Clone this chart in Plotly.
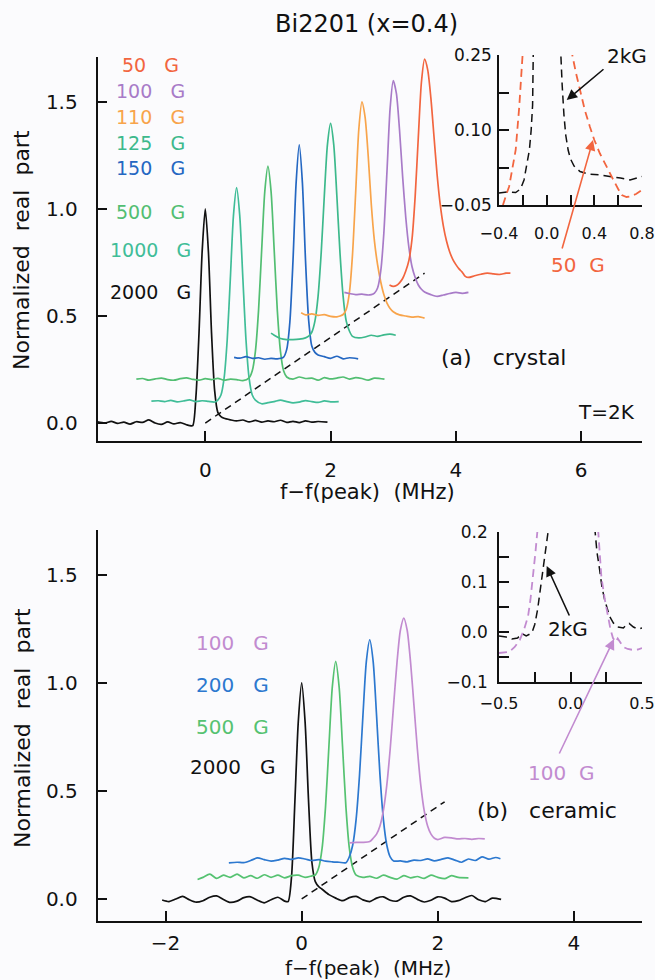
import plotly.graph_objects as go

W, H = 655, 980

# ---------------- DATA: top panel (a) crystal ----------------
top_2000_x = [-1.72, -1.6, -1.5, -1.4, -1.3, -1.2, -1.1, -1.0, -0.9, -0.8, -0.7, -0.6, -0.5, -0.4, -0.3, -0.25, -0.2,
              -0.15, -0.1, -0.05, 0.0, 0.05, 0.1, 0.15, 0.2, 0.25, 0.3, 0.4, 0.5, 0.6, 0.7, 0.8, 0.9, 1.0, 1.1, 1.2,
              1.3, 1.4, 1.5, 1.6, 1.7, 1.8, 1.95]
top_2000_y = [0.005, 0.0, 0.008, -0.002, 0.004, -0.005, 0.006, 0.003, 0.015, 0.0, -0.006, 0.005, -0.004, 0.002,
              -0.008, -0.012, -0.012, 0.12, 0.42, 0.8, 1.0, 0.8, 0.42, 0.15, 0.05, 0.03, 0.022, 0.015, 0.01, 0.014,
              0.005, 0.012, 0.004, 0.01, 0.006, 0.013, 0.003, 0.008, 0.002, 0.01, 0.004, 0.007, 0.004]

top_1000_x = [-0.86, -0.75, -0.65, -0.55, -0.45, -0.35, -0.25, -0.15, -0.05, 0.05, 0.15, 0.2, 0.25, 0.3, 0.35, 0.4,
              0.45, 0.5, 0.55, 0.6, 0.65, 0.7, 0.75, 0.8, 0.9, 1.0, 1.1, 1.2, 1.3, 1.4, 1.5, 1.6, 1.7, 1.8, 1.9, 2.0,
              2.13]
top_1000_y = [0.102, 0.104, 0.1, 0.106, 0.099, 0.103, 0.108, 0.1, 0.104, 0.101, 0.098, 0.107, 0.131, 0.209, 0.388,
              0.675, 0.97, 1.1, 0.97, 0.675, 0.388, 0.209, 0.131, 0.107, 0.09, 0.095, 0.1, 0.107, 0.1, 0.094, 0.098,
              0.105, 0.1, 0.096, 0.103, 0.099, 0.1]

top_500_x = [-1.1, -1.0, -0.9, -0.8, -0.7, -0.6, -0.5, -0.4, -0.3, -0.2, -0.1, 0.0, 0.1, 0.2, 0.3, 0.4, 0.5, 0.6,
             0.7, 0.75, 0.8, 0.85, 0.9, 0.95, 1.0, 1.05, 1.1, 1.15, 1.2, 1.25, 1.3, 1.4, 1.5, 1.6, 1.7, 1.8, 1.9, 2.0,
             2.1, 2.2, 2.3, 2.4, 2.5, 2.6, 2.7, 2.86]
top_500_y = [0.205, 0.208, 0.2, 0.206, 0.21, 0.203, 0.2, 0.207, 0.211, 0.204, 0.2, 0.207, 0.203, 0.209, 0.2, 0.205,
             0.203, 0.198, 0.211, 0.244, 0.335, 0.525, 0.807, 1.082, 1.2, 1.082, 0.807, 0.525, 0.335, 0.244, 0.215,
             0.205, 0.215, 0.208, 0.21, 0.2, 0.212, 0.206, 0.21, 0.215, 0.205, 0.212, 0.208, 0.2, 0.21, 0.205]

top_150_x = [0.46, 0.55, 0.65, 0.75, 0.85, 0.95, 1.05, 1.15, 1.25, 1.3, 1.35, 1.4, 1.45, 1.5, 1.55, 1.6, 1.65, 1.7,
             1.75, 1.8, 1.9, 2.0, 2.1, 2.2, 2.3, 2.44]
top_150_y = [0.307, 0.303, 0.31, 0.302, 0.305, 0.298, 0.302, 0.3, 0.308, 0.344, 0.472, 0.758, 1.123, 1.3, 1.123,
             0.758, 0.48, 0.36, 0.33, 0.318, 0.31, 0.302, 0.312, 0.3, 0.305, 0.3]

top_125_x = [1.05, 1.1, 1.2, 1.3, 1.4, 1.5, 1.6, 1.65, 1.7, 1.75, 1.8, 1.85, 1.9, 1.95, 2.0, 2.05, 2.1, 2.15, 2.2,
             2.25, 2.3, 2.35, 2.45, 2.55, 2.65, 2.75, 2.85, 2.95, 3.04]
top_125_y = [0.42, 0.41, 0.395, 0.39, 0.39, 0.392, 0.398, 0.406, 0.424, 0.476, 0.592, 0.795, 1.062, 1.302, 1.4,
             1.302, 1.062, 0.795, 0.592, 0.476, 0.43, 0.405, 0.398, 0.402, 0.41, 0.405, 0.412, 0.415, 0.41]

top_110_x = [1.53, 1.6, 1.7, 1.8, 1.9, 2.0, 2.1, 2.15, 2.2, 2.25, 2.3, 2.35, 2.4, 2.45, 2.5, 2.55, 2.6, 2.65, 2.7,
             2.75, 2.8, 2.85, 2.9, 2.95, 3.0, 3.1, 3.2, 3.3, 3.4, 3.5]
top_110_y = [0.515, 0.505, 0.51, 0.503, 0.506, 0.498, 0.496, 0.5, 0.507, 0.531, 0.609, 0.788, 1.075, 1.37, 1.5,
             1.43, 1.25, 1.02, 0.85, 0.74, 0.66, 0.6, 0.56, 0.535, 0.52, 0.505, 0.5, 0.495, 0.497, 0.49]

top_100_x = [2.22, 2.3, 2.4, 2.5, 2.6, 2.65, 2.7, 2.75, 2.8, 2.85, 2.9, 2.95, 3.0, 3.05, 3.1, 3.15, 3.2, 3.25, 3.3,
             3.35, 3.4, 3.45, 3.5, 3.6, 3.7, 3.8, 3.9, 4.0, 4.1, 4.2]
top_100_y = [0.61, 0.605, 0.6, 0.602, 0.598, 0.6, 0.607, 0.631, 0.709, 0.888, 1.175, 1.47, 1.6, 1.54, 1.37, 1.15,
             0.96, 0.82, 0.73, 0.68, 0.645, 0.625, 0.612, 0.6, 0.592, 0.598, 0.605, 0.61, 0.606, 0.61]

top_50_x = [2.94, 3.0, 3.05, 3.1, 3.15, 3.2, 3.25, 3.3, 3.35, 3.4, 3.45, 3.5, 3.55, 3.6, 3.65, 3.7, 3.75, 3.8, 3.85,
            3.9, 3.95, 4.0, 4.05, 4.1, 4.15, 4.2, 4.3, 4.4, 4.5, 4.6, 4.7, 4.8, 4.87]
top_50_y = [0.645, 0.638, 0.642, 0.655, 0.675, 0.71, 0.76, 0.86, 1.06, 1.335, 1.593, 1.7, 1.65, 1.52, 1.34, 1.16,
            1.02, 0.92, 0.85, 0.8, 0.765, 0.74, 0.72, 0.705, 0.685, 0.68, 0.688, 0.695, 0.7, 0.697, 0.694, 0.7, 0.7]

top_diag_x = [0.0, 3.5]
top_diag_y = [0.0, 0.7]

# top inset (zoom of 2kG and 50 G)
ins_a_2k_x = [-0.4, -0.33, -0.26, -0.22, -0.19, -0.165, -0.145, -0.13, -0.118, -0.11, 0.0, 0.11, 0.118, 0.13, 0.145,
              0.16, 0.18, 0.2, 0.23, 0.28, 0.35, 0.45, 0.55, 0.62, 0.7, 0.8]
ins_a_2k_y = [-0.026, -0.024, -0.025, -0.018, 0.0, 0.03, 0.06, 0.1, 0.15, 0.3, 1.0, 0.3, 0.25, 0.19, 0.13, 0.09,
              0.06, 0.042, 0.028, 0.017, 0.012, 0.01, 0.006, 0.004, 0.0, 0.007]
ins_a_50_x = [-0.4, -0.37, -0.34, -0.315, -0.29, -0.26, -0.23, -0.208, -0.19, 0.0, 0.2, 0.215, 0.245, 0.278, 0.32,
              0.362, 0.4, 0.447, 0.5, 0.56, 0.6, 0.63, 0.67, 0.7, 0.75, 0.8]
ins_a_50_y = [-0.075, -0.05, -0.03, -0.013, 0.02, 0.06, 0.147, 0.25, 0.35, 1.0, 0.3, 0.25, 0.215, 0.18, 0.14, 0.107,
              0.08, 0.053, 0.027, 0.0, -0.018, -0.03, -0.034, -0.033, -0.028, -0.02]

# ---------------- DATA: bottom panel (b) ceramic ----------------
bot_2000_x = [-2.05, -1.95, -1.85, -1.75, -1.65, -1.55, -1.45, -1.35, -1.25, -1.15, -1.05, -0.95, -0.85, -0.75,
              -0.65, -0.55, -0.45, -0.35, -0.25, -0.2, -0.15, -0.1, -0.05, 0.0, 0.05, 0.1, 0.15, 0.2, 0.25, 0.3, 0.4,
              0.5, 0.6, 0.7, 0.8, 0.9, 1.0, 1.1, 1.2, 1.3, 1.4, 1.5, 1.6, 1.7, 1.8, 1.9, 2.0, 2.1, 2.2, 2.3, 2.4,
              2.5, 2.6, 2.7, 2.8, 2.93]
bot_2000_y = [-0.005, -0.012, 0.0, 0.012, -0.004, -0.015, -0.008, 0.008, 0.014, -0.002, -0.016, -0.01, 0.006, 0.01,
              -0.006, -0.018, -0.004, 0.008, -0.01, -0.012, 0.1, 0.45, 0.82, 1.0, 0.82, 0.46, 0.17, 0.08, 0.057,
              0.045, 0.02, 0.004, -0.008, 0.006, 0.012, -0.004, -0.012, 0.004, 0.01, -0.006, -0.01, 0.008, 0.014,
              -0.002, -0.014, -0.006, 0.01, 0.004, -0.012, -0.008, 0.006, 0.016, -0.004, -0.012, 0.004, -0.002]

bot_500_x = [-1.53, -1.45, -1.35, -1.25, -1.15, -1.05, -0.95, -0.85, -0.75, -0.65, -0.55, -0.45, -0.35, -0.25,
             -0.15, -0.05, 0.05, 0.15, 0.2, 0.25, 0.3, 0.35, 0.4, 0.45, 0.5, 0.55, 0.6, 0.65, 0.7, 0.75, 0.8, 0.9,
             1.0, 1.1, 1.2, 1.3, 1.4, 1.5, 1.6, 1.7, 1.8, 1.9, 2.0, 2.1, 2.2, 2.3, 2.45]
bot_500_y = [0.09, 0.1, 0.115, 0.095, 0.11, 0.1, 0.115, 0.098, 0.108, 0.096, 0.112, 0.1, 0.11, 0.098, 0.108, 0.11,
             0.1, 0.107, 0.111, 0.144, 0.235, 0.425, 0.707, 0.982, 1.1, 0.982, 0.707, 0.425, 0.235, 0.144, 0.11,
             0.1, 0.105, 0.096, 0.11, 0.1, 0.092, 0.108, 0.098, 0.104, 0.095, 0.11, 0.1, 0.094, 0.108, 0.1, 0.098]

bot_200_x = [-1.07, -0.95, -0.85, -0.75, -0.65, -0.55, -0.45, -0.35, -0.25, -0.15, -0.05, 0.05, 0.15, 0.25, 0.35,
             0.45, 0.55, 0.65, 0.7, 0.75, 0.8, 0.85, 0.9, 0.95, 1.0, 1.05, 1.1, 1.15, 1.2, 1.25, 1.3, 1.35, 1.45,
             1.55, 1.65, 1.75, 1.85, 1.95, 2.05, 2.15, 2.25, 2.35, 2.45, 2.55, 2.65, 2.75, 2.85, 2.92]
bot_200_y = [0.167, 0.17, 0.168, 0.178, 0.19, 0.182, 0.175, 0.18, 0.188, 0.183, 0.19, 0.185, 0.178, 0.182, 0.175,
             0.172, 0.17, 0.168, 0.195, 0.25, 0.37, 0.575, 0.85, 1.1, 1.2, 1.1, 0.85, 0.575, 0.37, 0.25, 0.195,
             0.176, 0.176, 0.172, 0.18, 0.178, 0.186, 0.176, 0.183, 0.19, 0.18, 0.17, 0.185, 0.178, 0.195, 0.184,
             0.192, 0.186]

bot_100_x = [0.7, 0.8, 0.9, 1.0, 1.05, 1.1, 1.15, 1.2, 1.25, 1.3, 1.35, 1.4, 1.45, 1.5, 1.55, 1.6, 1.65, 1.7, 1.75,
             1.8, 1.85, 1.9, 1.95, 2.0, 2.1, 2.2, 2.3, 2.4, 2.5, 2.6, 2.69]
bot_100_y = [0.26, 0.262, 0.262, 0.266, 0.281, 0.3, 0.338, 0.409, 0.526, 0.693, 0.895, 1.094, 1.244, 1.3, 1.244,
             1.094, 0.895, 0.693, 0.526, 0.409, 0.338, 0.3, 0.281, 0.275, 0.285, 0.283, 0.278, 0.28, 0.276, 0.28,
             0.278]

bot_diag_x = [0.0, 2.1]
bot_diag_y = [0.0, 0.45]

# bottom inset (zoom of 2kG and 100 G)
ins_b_2k_x = [-0.5, -0.45, -0.41, -0.37, -0.34, -0.31, -0.27, -0.25, -0.23, -0.21, -0.19, -0.17, -0.157, -0.14,
              0.0, 0.15, 0.169, 0.185, 0.204, 0.22, 0.239, 0.257, 0.274, 0.3, 0.33, 0.37, 0.39, 0.41, 0.44, 0.47,
              0.5]
ins_b_2k_y = [-0.008, -0.01, -0.014, -0.012, -0.003, -0.008, -0.002, 0.015, 0.045, 0.085, 0.13, 0.175, 0.2, 0.26,
              1.0, 0.27, 0.2, 0.16, 0.124, 0.09, 0.064, 0.045, 0.031, 0.018, 0.01, 0.008, 0.014, 0.017, 0.01, 0.006,
              0.008]
ins_b_100_x = [-0.5, -0.43, -0.39, -0.355, -0.325, -0.297, -0.28, -0.262, -0.245, -0.232, -0.2, 0.0, 0.17, 0.192,
               0.204, 0.216, 0.24, 0.262, 0.28, 0.297, 0.315, 0.33, 0.35, 0.37, 0.4, 0.44, 0.47, 0.5]
ins_b_100_y = [-0.042, -0.04, -0.03, -0.016, 0.005, 0.031, 0.065, 0.11, 0.16, 0.2, 0.3, 1.0, 0.3, 0.2, 0.155, 0.11,
               0.065, 0.031, 0.005, -0.012, -0.02, -0.013, -0.022, -0.03, -0.034, -0.036, -0.035, -0.032]

# tick labels
top_xticks = [0, 2, 4, 6]
bot_xticks = [-2, 0, 2, 4]
main_yticks = [0.0, 0.5, 1.0, 1.5]
ins_a_xticks = [-0.4, -0.2, 0.0, 0.2, 0.4, 0.6, 0.8]
ins_a_xtext = ["\u22120.4", "", "0.0", "", "0.4", "", "0.8"]
ins_a_yticks = [-0.05, 0.025, 0.1, 0.175, 0.25]
ins_a_ytext = ["\u22120.05", "", "0.10", "", "0.25"]
ins_b_xticks = [-0.5, -0.25, 0.0, 0.25, 0.5]
ins_b_xtext = ["\u22120.5", "", "0.0", "", "0.5"]
ins_b_yticks = [-0.1, -0.05, 0.0, 0.05, 0.1, 0.15, 0.2]
ins_b_ytext = ["\u22120.1", "", "0.0", "", "0.1", "", "0.2"]

# ---------------- styling ----------------
FONT = "DejaVu Sans"
BG = "#FBFBFD"
INK = "#111111"
c50 = "#F2653F"
c100 = "#A87BC8"
c110 = "#F8A44B"
c125 = "#3DB98C"
c150 = "#2467C2"
c500 = "#52BE72"
c1000 = "#40BD98"
b100 = "#C28BD0"
b200 = "#2C78CF"
b500 = "#55C271"
LW = 1.7


def px(x):
    return x / W


def py(y):
    return 1 - y / H


fig = go.Figure()


def line(x, y, color, xa, ya, dash=None, width=LW, shape="spline"):
    fig.add_trace(go.Scatter(x=x, y=y, mode="lines", xaxis=xa, yaxis=ya,
                             line=dict(color=color, width=width, dash=dash, shape=shape, smoothing=0.7),
                             hoverinfo="skip", showlegend=False))


# top main
line(top_diag_x, top_diag_y, INK, "x", "y", dash="7px,5px", width=1.5, shape="linear")
line(top_2000_x, top_2000_y, INK, "x", "y")
line(top_1000_x, top_1000_y, c1000, "x", "y")
line(top_500_x, top_500_y, c500, "x", "y")
line(top_150_x, top_150_y, c150, "x", "y")
line(top_125_x, top_125_y, c125, "x", "y")
line(top_110_x, top_110_y, c110, "x", "y")
line(top_100_x, top_100_y, c100, "x", "y")
line(top_50_x, top_50_y, c50, "x", "y")
# bottom main
line(bot_diag_x, bot_diag_y, INK, "x2", "y2", dash="7px,5px", width=1.5, shape="linear")
line(bot_2000_x, bot_2000_y, INK, "x2", "y2")
line(bot_500_x, bot_500_y, b500, "x2", "y2")
line(bot_200_x, bot_200_y, b200, "x2", "y2")
line(bot_100_x, bot_100_y, b100, "x2", "y2")
# insets
line(ins_a_2k_x, ins_a_2k_y, INK, "x3", "y3", dash="8px,5px", width=1.5, shape="linear")
line(ins_a_50_x, ins_a_50_y, c50, "x3", "y3", dash="8px,5px", width=1.8, shape="linear")
line(ins_b_2k_x, ins_b_2k_y, INK, "x4", "y4", dash="8px,5px", width=1.5, shape="linear")
line(ins_b_100_x, ins_b_100_y, b100, "x4", "y4", dash="8px,5px", width=1.8, shape="linear")


def axis(domain, rng, anchor, tickvals, ticktext=None, fmt=None, size=20, standoff=12):
    d = dict(domain=domain, range=rng, anchor=anchor, showline=True, linecolor=INK, linewidth=1.6,
             ticks="inside", ticklen=10, tickwidth=1.6, tickcolor=INK, showgrid=False, zeroline=False,
             tickvals=tickvals, tickfont=dict(family=FONT, size=size, color=INK),
             ticklabelstandoff=standoff, fixedrange=True, automargin=False, ticklabeloverflow="allow")
    if ticktext is not None:
        d["ticktext"] = ticktext
    if fmt:
        d["tickformat"] = fmt
    return d


xdom = [px(97.5), px(642)]
fig.update_layout(
    width=W, height=H, margin=dict(l=0, r=0, t=0, b=0, pad=0, autoexpand=False),
    paper_bgcolor=BG, plot_bgcolor=BG, showlegend=False, hovermode=False,
    xaxis=axis(xdom, [-1.72, 6.97], "y", top_xticks, size=20, standoff=10),
    yaxis=axis([py(441), py(57)], [-0.084, 1.71], "x", main_yticks, fmt=".1f", size=20, standoff=14),
    xaxis2=axis(xdom, [-3.0, 5.0], "y2", bot_xticks, size=20, standoff=3),
    yaxis2=axis([py(921), py(530)], [-0.102, 1.708], "x2", main_yticks, fmt=".1f", size=20, standoff=14),
    xaxis3=axis([px(499), px(642)], [-0.4, 0.8], "y3", ins_a_xticks, ins_a_xtext, size=16, standoff=13),
    yaxis3=axis([py(205), py(55)], [-0.05, 0.25], "x3", ins_a_yticks, ins_a_ytext, size=17, standoff=2),
    xaxis4=axis([px(499), px(642)], [-0.5, 0.5], "y4", ins_b_xticks, ins_b_xtext, size=16, standoff=6),
    yaxis4=axis([py(682), py(532)], [-0.1, 0.2], "x4", ins_b_yticks, ins_b_ytext, size=17, standoff=6),
)

NB = "\u00a0"


def text(x, y, s, color=INK, size=19, angle=0):
    fig.add_annotation(x=px(x), y=py(y), xref="paper", yref="paper", text=s, showarrow=False,
                       xanchor="center", yanchor="middle", textangle=angle,
                       font=dict(family=FONT, size=size, color=color))


def arrow(tipx, tipy, tailx, taily, color):
    fig.add_annotation(x=px(tipx), y=py(tipy), xref="paper", yref="paper", text="",
                       showarrow=True, ax=tailx - tipx, ay=taily - tipy, axref="pixel", ayref="pixel",
                       arrowhead=2, arrowsize=1.3, arrowwidth=1.6, arrowcolor=color,
                       standoff=0, startstandoff=0)


text(367, 24, "Bi2201 (x=0.4)", size=24)
G3 = NB * 3 + "G"
top_labels = [("50" + G3, c50, 65), ("100" + G3, c100, 91), ("110" + G3, c110, 117),
              ("125" + G3, c125, 143), ("150" + G3, c150, 168), ("500" + G3, c500, 212),
              ("1000" + G3, c1000, 250), ("2000" + G3, INK, 292)]
for s, c, yy in top_labels:
    text(150, yy, s, color=c, size=19)
text(503, 357, "(a)" + NB * 3 + "crystal", size=22)
text(606, 412, "T=2K", size=20)
text(367.5, 492, "f\u2212f(peak)" + NB * 2 + "(MHz)", size=21)
text(22, 250, "Normalized" + NB * 2 + "real" + NB * 2 + "part", size=22, angle=-90)
text(627, 56, "2kG", size=20)
text(577.5, 265, "50" + NB * 2 + "G", color=c50, size=20)
arrow(566.7, 100, 605, 68, INK)
arrow(593, 140, 561.7, 250, c50)

bot_labels = [("100" + G3, b100, 643), ("200" + G3, b200, 685), ("500" + G3, b500, 727),
              ("2000" + G3, INK, 767)]
for s, c, yy in bot_labels:
    text(232, yy, s, color=c, size=20)
text(547, 810, "(b)" + NB * 3 + "ceramic", size=22)
text(561, 773, "100" + NB * 2 + "G", color=b100, size=20)
text(568, 629, "2kG", size=20)
arrow(546.7, 566, 570, 617, INK)
arrow(614, 639, 558.6, 755, b100)
text(367.5, 968, "f\u2212f(peak)" + NB * 2 + "(MHz)", size=20)
text(22, 728, "Normalized" + NB * 2 + "real" + NB * 2 + "part", size=22, angle=-90)

fig.write_html(
    "out.html",
    config={"displayModeBar": False},
    post_script="document.body.style.margin='0px';document.body.style.overflow='hidden';"
                "document.documentElement.style.background='" + BG + "';",
)
